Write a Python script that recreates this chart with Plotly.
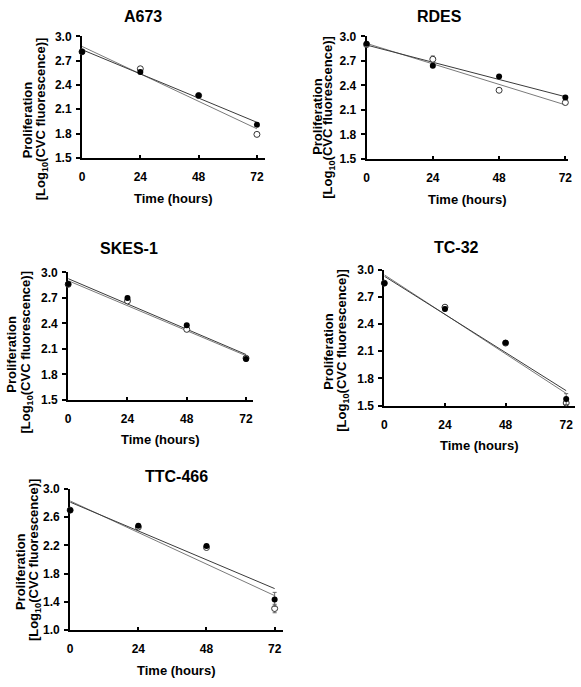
import numpy as np
import plotly.graph_objects as go

W, H = 581, 687

hours = [0, 24, 48, 72]
x_ticks = [0, 24, 48, 72]

titles = ["A673", "RDES", "SKES-1", "TC-32", "TTC-466"]

a673_filled = [2.81, 2.56, 2.27, 1.91]
a673_open = [2.81, 2.60, 2.27, 1.79]
a673_filled_err = [0.01, 0.02, 0.01, 0.02]
a673_open_err = [0.01, 0.02, 0.01, 0.02]

rdes_filled = [2.91, 2.64, 2.51, 2.25]
rdes_open = [2.90, 2.72, 2.34, 2.19]
rdes_filled_err = [0.01, 0.02, 0.01, 0.02]
rdes_open_err = [0.01, 0.04, 0.01, 0.02]

skes_filled = [2.865, 2.70, 2.377, 1.98]
skes_open = [2.86, 2.665, 2.33, 1.99]
skes_filled_err = [0.01, 0.02, 0.02, 0.02]
skes_open_err = [0.01, 0.02, 0.02, 0.02]

tc32_filled = [2.85, 2.566, 2.194, 1.573]
tc32_open = [2.85, 2.585, 2.19, 1.53]
tc32_filled_err = [0.01, 0.02, 0.01, 0.06]
tc32_open_err = [0.01, 0.02, 0.01, 0.05]

ttc_filled = [2.70, 2.478, 2.19, 1.434]
ttc_open = [2.70, 2.46, 2.17, 1.305]
ttc_filled_err = [0.01, 0.02, 0.02, 0.10]
ttc_open_err = [0.01, 0.02, 0.02, 0.06]

y_ticks_a = [1.5, 1.8, 2.1, 2.4, 2.7, 3.0]
y_ticks_b = [1.0, 1.4, 1.8, 2.2, 2.6, 3.0]

panels = [
    dict(filled=a673_filled, open=a673_open, fe=a673_filled_err, oe=a673_open_err,
         xd=(80, 265), xr=75.25, yd=(30, 154), yr=(1.5, 3.0), yt=y_ticks_a,
         title=(142, 10), l1=(25, 115), l2=(39, 114)),
    dict(filled=rdes_filled, open=rdes_open, fe=rdes_filled_err, oe=rdes_open_err,
         xd=(368, 572), xr=73.0, yd=(30, 155), yr=(1.5, 3.0), yt=y_ticks_a,
         title=(442, 10), l1=(319, 112), l2=(330, 113)),
    dict(filled=skes_filled, open=skes_open, fe=skes_filled_err, oe=skes_open_err,
         xd=(66, 253), xr=74.8, yd=(271, 401), yr=(1.5, 3.0), yt=y_ticks_a,
         title=(128, 247), l1=(9, 354), l2=(24, 352)),
    dict(filled=tc32_filled, open=tc32_open, fe=tc32_filled_err, oe=tc32_open_err,
         xd=(386, 579), xr=75.5, yd=(268, 407), yr=(1.5, 3.0), yt=y_ticks_a,
         title=(459, 245), l1=(330, 352), l2=(344, 350)),
    dict(filled=ttc_filled, open=ttc_open, fe=ttc_filled_err, oe=ttc_open_err,
         xd=(68, 283), xr=74.8, yd=(492, 636), yr=(1.0, 3.0), yt=y_ticks_b,
         title=(176, 479), l1=(17, 576), l2=(32, 564)),
]

FONT = "Liberation Sans, Arial, sans-serif"
fig = go.Figure()
annotations = []
layout_axes = {}


def px(x):
    return x / W


def py(y):
    return 1 - y / H


for i, p in enumerate(panels):
    n = i + 1
    xa = "x" if n == 1 else f"x{n}"
    ya = "y" if n == 1 else f"y{n}"
    xkey = "xaxis" if n == 1 else f"xaxis{n}"
    ykey = "yaxis" if n == 1 else f"yaxis{n}"

    # fit lines (linear regression of each series)
    for series, col in ((p["open"], "#7a7a7a"), (p["filled"], "#3a3a3a")):
        k, b = np.polyfit(hours, series, 1)
        xs = [hours[0], hours[-1]]
        fig.add_trace(go.Scatter(x=xs, y=[b + k * v for v in xs], mode="lines",
                                 line=dict(color=col, width=1), xaxis=xa, yaxis=ya,
                                 showlegend=False, hoverinfo="skip", cliponaxis=False))
    # open markers
    fig.add_trace(go.Scatter(x=hours, y=p["open"], mode="markers",
                             marker=dict(symbol="circle", size=6, color="white",
                                         line=dict(color="#333", width=1)),
                             error_y=dict(type="data", array=p["oe"], color="#666",
                                          thickness=1, width=2),
                             xaxis=xa, yaxis=ya, showlegend=False, cliponaxis=False))
    # filled markers
    fig.add_trace(go.Scatter(x=hours, y=p["filled"], mode="markers",
                             marker=dict(symbol="circle", size=6, color="black",
                                         line=dict(color="black", width=0)),
                             error_y=dict(type="data", array=p["fe"], color="#666",
                                          thickness=1, width=2),
                             xaxis=xa, yaxis=ya, showlegend=False, cliponaxis=False))

    layout_axes[xkey] = dict(
        domain=[px(p["xd"][0]), px(p["xd"][1])], range=[0, p["xr"]],
        anchor=ya, tickvals=x_ticks, ticks="inside", ticklen=3, tickwidth=1.5,
        tickcolor="black", showline=True, linecolor="black", linewidth=2,
        showgrid=False, zeroline=False, ticklabelstandoff=7,
        tickfont=dict(family=FONT, size=12, color="black", weight="bold"),
        layer="below traces", fixedrange=True)
    layout_axes[ykey] = dict(
        domain=[py(p["yd"][1]), py(p["yd"][0])], range=list(p["yr"]),
        anchor=xa, tickvals=p["yt"], tickformat=".1f", ticks="outside", ticklen=4,
        tickwidth=1.5, tickcolor="black", showline=True, linecolor="black", linewidth=2,
        showgrid=False, zeroline=False, ticklabelstandoff=2,
        tickfont=dict(family=FONT, size=12, color="black", weight="bold"),
        layer="below traces", fixedrange=True)

    # panel title
    annotations.append(dict(text=titles[i], x=px(p["title"][0]), y=py(p["title"][1]),
                            xref="paper", yref="paper", xanchor="center", yanchor="middle",
                            showarrow=False,
                            font=dict(family=FONT, size=16, color="black", weight="bold")))
    # x axis title
    xc = (p["xd"][0] + p["xd"][1]) / 2
    annotations.append(dict(text="Time (hours)", x=px(xc), y=py(p["yd"][1] + 41),
                            xref="paper", yref="paper", xanchor="center", yanchor="middle",
                            showarrow=False,
                            font=dict(family=FONT, size=13, color="black", weight="bold")))
    # y axis title (two lines)
    annotations.append(dict(text="Proliferation", x=px(p["l1"][0]), y=py(p["l1"][1]),
                            xref="paper", yref="paper", xanchor="center", yanchor="middle",
                            textangle=-90, showarrow=False,
                            font=dict(family=FONT, size=13, color="black", weight="bold")))
    annotations.append(dict(text="[Log<sub>10</sub>(CVC fluorescence)]",
                            x=px(p["l2"][0]), y=py(p["l2"][1]),
                            xref="paper", yref="paper", xanchor="center", yanchor="middle",
                            textangle=-90, showarrow=False,
                            font=dict(family=FONT, size=13, color="black", weight="bold")))

fig.update_layout(
    width=W, height=H, margin=dict(l=0, r=0, t=0, b=0),
    paper_bgcolor="white", plot_bgcolor="white",
    annotations=annotations, showlegend=False,
    **layout_axes,
)

fig.write_html(
    "out.html",
    config={"displayModeBar": False, "staticPlot": False},
    post_script="document.body.style.margin='0';document.body.style.overflow='hidden';",
)
